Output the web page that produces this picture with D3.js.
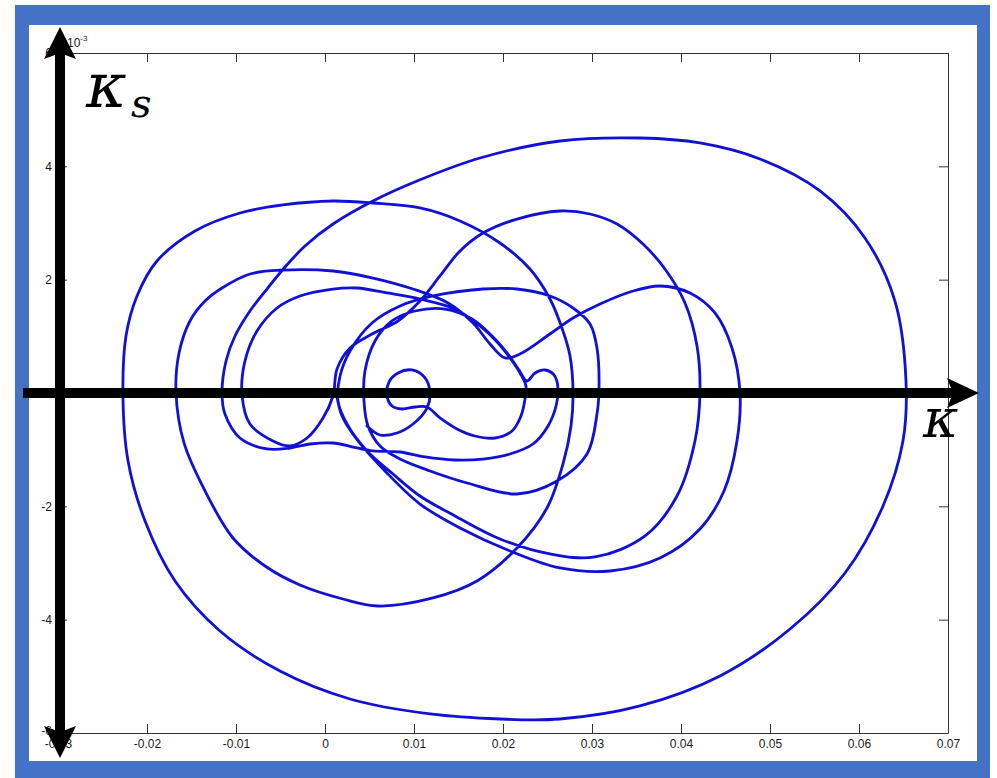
<!DOCTYPE html>
<html>
<head>
<meta charset="utf-8">
<script src="https://cdn.jsdelivr.net/npm/d3@7"></script>
<style>
  body { margin: 0; background: #fff; }
  svg { display: block; }
  .tick text { font-family: "Liberation Sans", Arial, sans-serif; font-size: 12px; fill: #1a1a1a; }
</style>
</head>
<body>
<script>
// Trajectory in the (kappa, kappa_s) plane; kappa_s is given in units of 1e-3.
const kappa = [
  0.00472, 0.00618, 0.00809, 0.00989, 0.01146, 0.01180, 0.01124, 0.00978, 0.00820, 0.00719, 0.00697,
  0.00753, 0.00865, 0.01011, 0.01146, 0.01292, 0.01483, 0.01685, 0.01910, 0.02101, 0.02202,
  0.02247, 0.02258, 0.02191, 0.02079, 0.01944, 0.01742, 0.01461, 0.01067, 0.00697, 0.00360,
  0.00090, -0.00281, -0.00539, -0.00764, -0.00899, -0.00933, -0.00843, -0.00584, -0.00393, -0.00202,
  -0.00022, 0.00090, 0.00135, 0.00281, 0.00528, 0.00820, 0.01067, 0.01292, 0.01517, 0.01775,
  0.02157, 0.02640, 0.02978, 0.03281, 0.03573, 0.03820, 0.04045, 0.04180, 0.04213, 0.04157,
  0.03955, 0.03596, 0.03034, 0.02528, 0.01966, 0.01461, 0.01067, 0.00764, 0.00472, 0.00247,
  0.00146, 0.00169, 0.00281, 0.00528, 0.00843, 0.01213, 0.01775, 0.02157, 0.02528, 0.02787,
  0.02978, 0.03056, 0.03079, 0.03056, 0.02944, 0.02607, 0.02157, 0.01596, 0.01180, 0.00843,
  0.00618, 0.00483, 0.00438, 0.00449, 0.00562, 0.00753, 0.01011, 0.01348, 0.01652, 0.01888,
  0.02056, 0.02180, 0.02270, 0.02360, 0.02472, 0.02573, 0.02618, 0.02596, 0.02506, 0.02337,
  0.02079, 0.01775, 0.01461, 0.01124, 0.00843, 0.00539, 0.00315, 0.00090, -0.00169, -0.00393,
  -0.00652, -0.00955, -0.01124, -0.01157, -0.01112, -0.01011, -0.00843, -0.00652, -0.00449, -0.00225,
  0.00090, 0.00539, 0.01034, 0.01742, 0.02640, 0.03539, 0.04213, 0.04888, 0.05562, 0.06067,
  0.06404, 0.06528, 0.06494, 0.06270, 0.05843, 0.05225, 0.04438, 0.03539, 0.02640, 0.01966,
  0.01180, 0.00281, -0.00506, -0.01180, -0.01685, -0.02022, -0.02213, -0.02270, -0.02236, -0.02112,
  -0.01888, -0.01461, -0.00955, -0.00472, 0.00090, 0.00539, 0.01067, 0.01517, 0.01966, 0.02303,
  0.02528, 0.02674, 0.02753, 0.02787, 0.02764, 0.02674, 0.02494, 0.02157, 0.01708, 0.01213,
  0.00596, 0.00202, -0.00281, -0.00674, -0.01034, -0.01348, -0.01584, -0.01674, -0.01640, -0.01517,
  -0.01348, -0.01157, -0.00843, -0.00472, 0.00090, 0.00539, 0.00989, 0.01382, 0.01663, 0.01854,
  0.02022, 0.02191, 0.02528, 0.02787, 0.03090, 0.03461, 0.03764, 0.04101, 0.04382, 0.04573,
  0.04663, 0.04629, 0.04483, 0.04213, 0.03764, 0.03202, 0.02640, 0.02079, 0.01517, 0.01067,
  0.00674, 0.00371, 0.00191, 0.00124
];
const kappaS = [
  -0.582, -0.741, -0.706, -0.547, -0.265, 0.000, 0.265, 0.406, 0.353, 0.194, -0.053,
  -0.229, -0.282, -0.247, -0.247, -0.441, -0.635, -0.759, -0.794, -0.671, -0.406,
  -0.106, 0.124, 0.353, 0.618, 0.882, 1.182, 1.482, 1.659, 1.765, 1.853,
  1.835, 1.712, 1.500, 1.094, 0.565, -0.018, -0.547, -0.847, -0.935, -0.794,
  -0.441, -0.053, 0.424, 0.794, 1.041, 1.271, 1.623, 2.065, 2.506, 2.823,
  3.070, 3.212, 3.159, 2.982, 2.629, 2.188, 1.588, 0.829, 0.000, -0.847,
  -1.818, -2.523, -2.894, -2.841, -2.576, -2.170, -1.818, -1.429, -1.023, -0.547,
  -0.141, 0.300, 0.741, 1.235, 1.535, 1.712, 1.835, 1.835, 1.712, 1.500,
  1.218, 0.794, 0.088, -0.371, -1.076, -1.553, -1.782, -1.588, -1.376, -1.165,
  -0.935, -0.582, -0.141, 0.388, 0.918, 1.271, 1.447, 1.482, 1.306, 0.988,
  0.688, 0.406, 0.212, 0.353, 0.406, 0.318, 0.088, -0.229, -0.582, -0.900,
  -1.076, -1.165, -1.182, -1.129, -1.041, -1.023, -0.953, -0.882, -0.900, -0.971,
  -0.988, -0.794, -0.371, 0.000, 0.565, 1.006, 1.447, 1.835, 2.223, 2.594,
  2.982, 3.388, 3.741, 4.147, 4.447, 4.500, 4.412, 4.129, 3.565, 2.735,
  1.623, 0.212, -0.847, -1.994, -3.176, -4.165, -4.994, -5.523, -5.753, -5.753,
  -5.664, -5.400, -4.906, -4.200, -3.318, -2.259, -1.200, -0.053, 1.006, 1.712,
  2.329, 2.859, 3.176, 3.318, 3.388, 3.353, 3.265, 3.035, 2.647, 2.188,
  1.659, 1.094, 0.653, 0.000, -0.582, -1.253, -2.029, -2.735, -3.318, -3.617,
  -3.759, -3.635, -3.388, -3.053, -2.559, -1.729, -0.882, 0.000, 0.706, 1.271,
  1.623, 1.853, 2.100, 2.170, 2.153, 2.029, 1.835, 1.588, 1.235, 0.865,
  0.618, 0.688, 1.041, 1.323, 1.570, 1.800, 1.888, 1.765, 1.412, 0.794,
  0.000, -0.847, -1.729, -2.400, -2.912, -3.141, -3.088, -2.788, -2.382, -1.959,
  -1.376, -0.847, -0.406, 0.035
];

const xTicks = [-0.03, -0.02, -0.01, 0, 0.01, 0.02, 0.03, 0.04, 0.05, 0.06, 0.07];
const xTickLabels = ["-0.03", "-0.02", "-0.01", "0", "0.01", "0.02", "0.03", "0.04", "0.05", "0.06", "0.07"];
const yTicks = [-6, -4, -2, 0, 2, 4, 6];
const yTickLabels = ["-6", "-4", "-2", "0", "2", "4", "6"];

const W = 997, H = 778;
const svg = d3.select("body").append("svg").attr("width", W).attr("height", H);

// slide frame
svg.append("rect").attr("x", 15).attr("y", 5).attr("width", 975).attr("height", 790).attr("fill", "#4472c4");
svg.append("rect").attr("x", 29).attr("y", 25).attr("width", 948).attr("height", 736).attr("fill", "#fff");

const x = d3.scaleLinear().domain([-0.03, 0.07]).range([58, 948]);
const y = d3.scaleLinear().domain([-6, 6]).range([733, 53]);

const axisColor = "#333";
const fmtX = (d, i) => xTickLabels[i];
const fmtY = (d, i) => yTickLabels[i];

svg.append("g").attr("transform", `translate(0,${y.range()[0]})`).style("color", axisColor)
  .call(d3.axisBottom(x).tickValues(xTicks).tickFormat(fmtX).tickSize(-9).tickSizeOuter(0).tickPadding(6));
svg.append("g").attr("transform", `translate(0,${y.range()[1]})`).style("color", axisColor)
  .call(d3.axisTop(x).tickValues(xTicks).tickFormat("").tickSize(-9).tickSizeOuter(0));
svg.append("g").attr("transform", `translate(${x.range()[0]},0)`).style("color", axisColor)
  .call(d3.axisLeft(y).tickValues(yTicks).tickFormat(fmtY).tickSize(-9).tickSizeOuter(0).tickPadding(6));
svg.append("g").attr("transform", `translate(${x.range()[1]},0)`).style("color", axisColor)
  .call(d3.axisRight(y).tickValues(yTicks).tickFormat("").tickSize(-9).tickSizeOuter(0));

// lowest y label sits a touch higher so it clears the x labels
svg.selectAll("g.tick text").filter(function () { return this.textContent === "-6"; }).attr("dy", "0.1em");

// exponent label of the kappa_s axis
const expo = svg.append("text").attr("x", x.range()[0] + 3).attr("y", y.range()[1] - 6)
  .attr("font-family", "Liberation Sans, Arial, sans-serif").attr("font-size", 12).attr("fill", "#1a1a1a");
expo.append("tspan").text("x10");
expo.append("tspan").attr("dy", -6).attr("font-size", 8).text("-3");

// the trajectory
const line = d3.line()
  .x(i => x(kappa[i]))
  .y(i => y(kappaS[i]))
  .curve(d3.curveCatmullRom.alpha(0.5));
svg.append("path")
  .attr("d", line(d3.range(kappa.length)))
  .attr("fill", "none")
  .attr("stroke", "#1010d6")
  .attr("stroke-width", 2.8)
  .attr("stroke-linejoin", "round")
  .attr("stroke-linecap", "round");

// thick coordinate arrows
const ax0 = x(-0.03) + 2;      // vertical arrow position
const ay0 = y(0);              // horizontal arrow position
svg.append("rect").attr("x", ax0 - 5).attr("y", 50).attr("width", 10).attr("height", 684).attr("fill", "#000");
svg.append("path").attr("fill", "#000")
  .attr("d", `M${ax0},27 L${ax0 + 16},59 L${ax0},53 L${ax0 - 16},59 Z`);
svg.append("path").attr("fill", "#000")
  .attr("d", `M${ax0},758 L${ax0 + 16},726 L${ax0},732 L${ax0 - 16},726 Z`);
svg.append("rect").attr("x", 23).attr("y", ay0 - 5).attr("width", 932).attr("height", 10).attr("fill", "#000");
svg.append("path").attr("fill", "#000")
  .attr("d", `M979,${ay0} L947,${ay0 - 15} L953,${ay0} L947,${ay0 + 15} Z`);

// axis symbols
const symFont = "DejaVu Serif, serif";
svg.append("text").attr("x", 86).attr("y", 107).attr("font-family", symFont)
  .attr("font-style", "italic").attr("font-size", 62).attr("fill", "#000").text("κ");
svg.append("text").attr("x", 131).attr("y", 117).attr("font-family", symFont)
  .attr("font-style", "italic").attr("font-size", 40).attr("fill", "#000").text("s");
svg.append("text").attr("x", 923).attr("y", 437).attr("font-family", symFont)
  .attr("font-style", "italic").attr("font-size", 54).attr("fill", "#000").text("κ");
</script>
</body>
</html>
